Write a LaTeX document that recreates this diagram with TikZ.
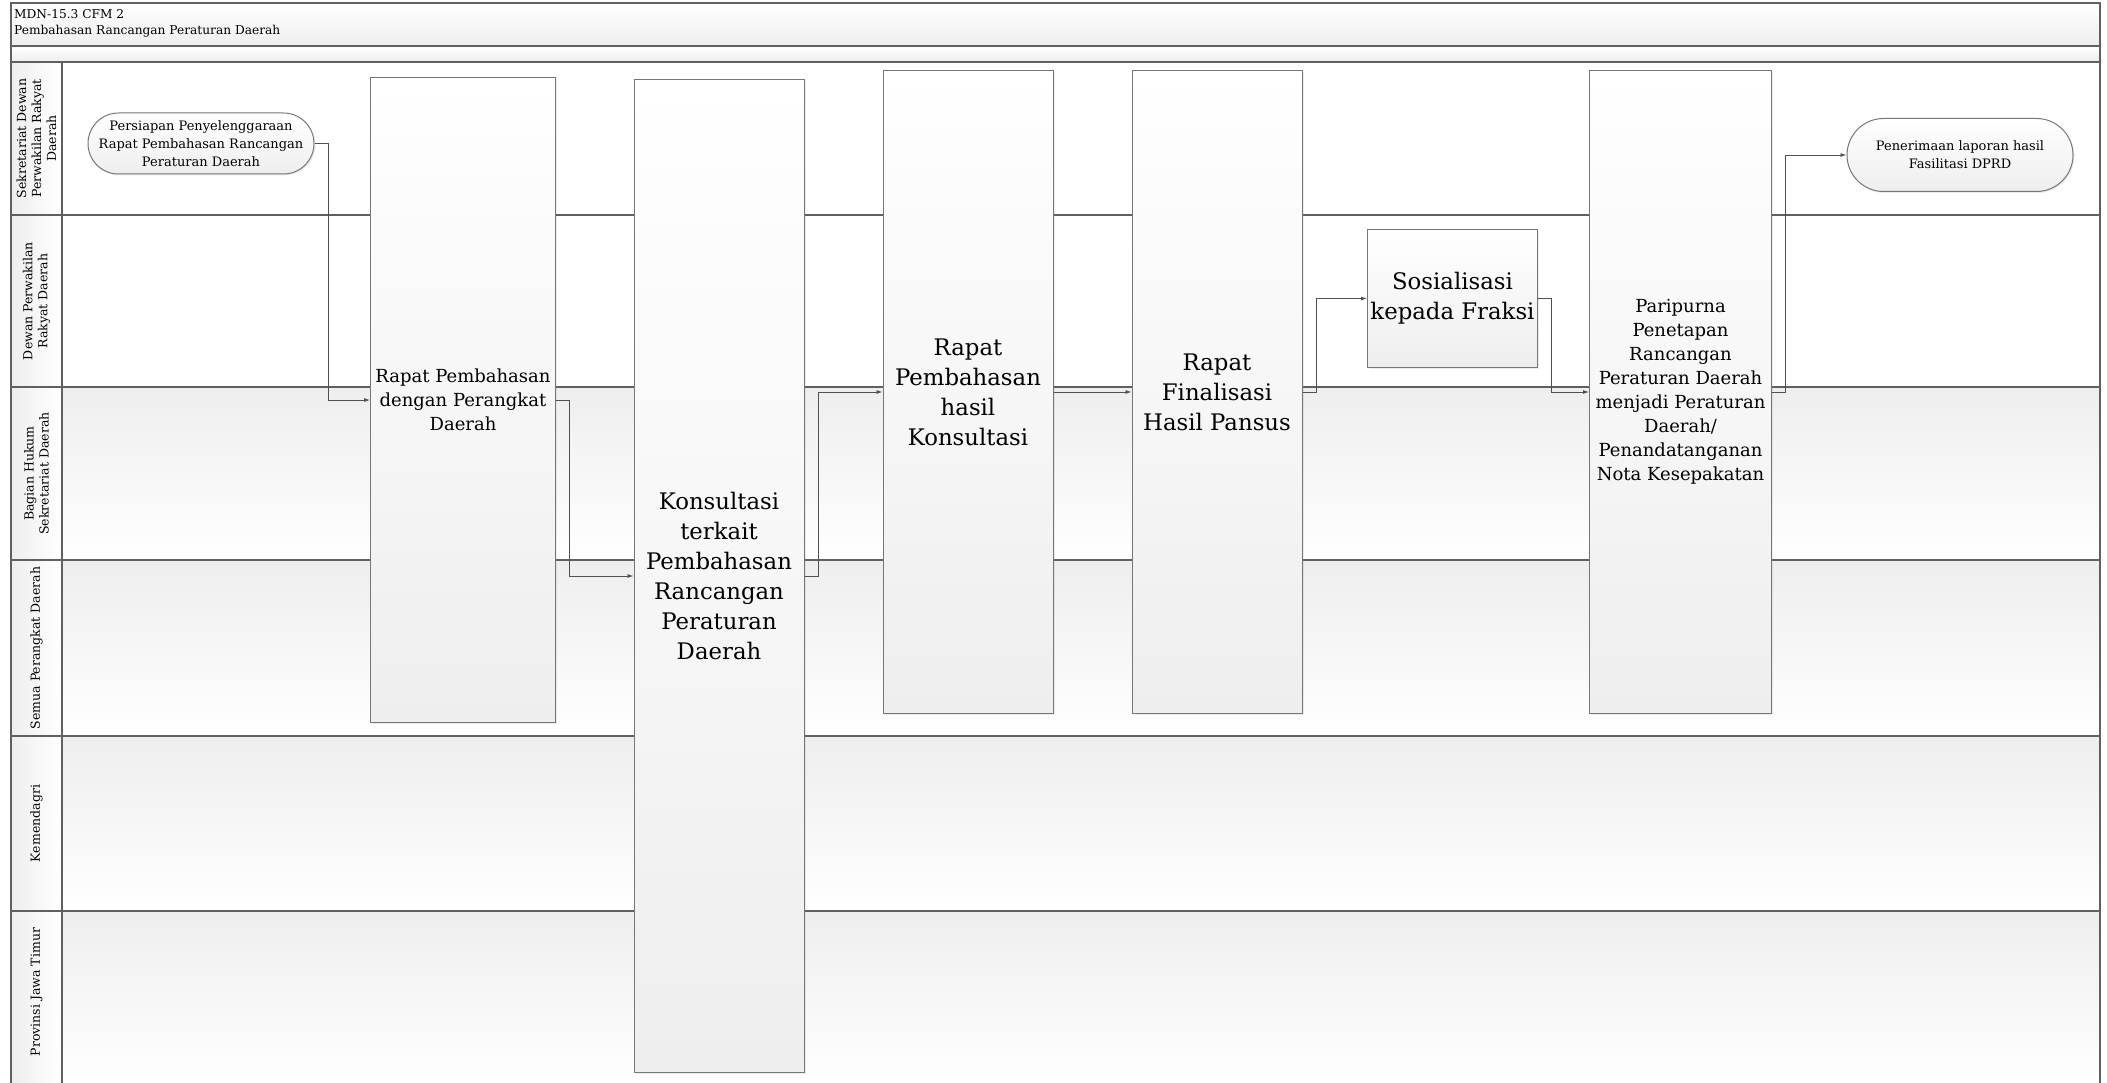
\documentclass[tikz,border=0pt]{standalone}
\usepackage{fontspec}
\setmainfont{DejaVu Serif}
\usetikzlibrary{positioning, arrows.meta, shapes.misc, shadows}
\definecolor{edgegray}{RGB}{118,118,118}
\definecolor{lanegray}{RGB}{96,96,96}
\definecolor{shadegray}{RGB}{238,238,238}
\definecolor{flowgray}{RGB}{80,80,80}
\newcommand{\titletxt}{\fontsize{12.2}{16}\selectfont}
\newcommand{\lanetxt}{\fontsize{12.5}{15}\selectfont}
\newcommand{\termtxt}{\fontsize{13}{18}\selectfont}
\newcommand{\midtxt}{\fontsize{18}{24}\selectfont}
\newcommand{\bigtxt}{\fontsize{22.8}{30}\selectfont}

\begin{document}
\begin{tikzpicture}[
  x=1pt, y=-1pt,
  task/.style={draw=edgegray, line width=1pt, top color=white,
               bottom color=shadegray, align=center, inner sep=2pt,
               drop shadow={shadow xshift=1.5pt, shadow yshift=-1.5pt,
                            opacity=0.15}},
  term/.style={task, rounded rectangle, font=\termtxt},
  lanelab/.style={rotate=90, align=center, font=\lanetxt, inner sep=1pt},
  lane/.style={draw=lanegray, line width=1.4pt},
  flow/.style={-{Latex[length=6pt, width=4pt]}, draw=flowgray,
               line width=0.9pt}]

  \useasboundingbox (0,0) rectangle (2107,1083);

  % header and lanes
  \shade[top color=white, bottom color=shadegray] (11,3) rectangle (2100,46);
  \shade[top color=white, bottom color=shadegray] (11,46) rectangle (2100,62);
  \fill[white] (62,62) rectangle (2100,387);
  \shade[top color=shadegray, bottom color=white] (62,387) rectangle (2100,560);
  \shade[top color=shadegray, bottom color=white] (62,560) rectangle (2100,736);
  \shade[top color=shadegray, bottom color=white] (62,736) rectangle (2100,911);
  \shade[top color=shadegray, bottom color=white] (62,911) rectangle (2100,1083);
  \shade[left color=shadegray, right color=white] (11,62) rectangle (62,1083);

  \draw[lane] (11,46) -- (2100,46);
  \draw[lane] (11,62) -- (2100,62);
  \draw[lane] (11,215) -- (2100,215);
  \draw[lane] (11,387) -- (2100,387);
  \draw[lane] (11,560) -- (2100,560);
  \draw[lane] (11,736) -- (2100,736);
  \draw[lane] (11,911) -- (2100,911);
  \draw[lane] (62,62) -- (62,1083);
  \draw[lane] (11,1083) -- (11,3) -- (2100,3) -- (2100,1083);

  \node[anchor=north west, align=left, font=\titletxt, inner sep=0pt] (title)
    at (14,9) {MDN-15.3 CFM 2\\Pembahasan Rancangan Peraturan Daerah};

  \node[lanelab] (sekwan) at (36.5,138.5) {Sekretariat Dewan\\Perwakilan Rakyat\\Daerah};
  \node[lanelab] (dprd)   at (36.5,301)   {Dewan Perwakilan\\Rakyat Daerah};
  \node[lanelab] (hukum)  at (36.5,473.5) {Bagian Hukum\\Sekretariat Daerah};
  \node[lanelab] (opd)    at (36.5,648)   {Semua Perangkat Daerah};
  \node[lanelab] (kemen)  at (36.5,823.5) {Kemendagri};
  \node[lanelab] (prov)   at (36.5,992)   {Provinsi Jawa Timur};

  % process
  \node[term, minimum width=230pt, minimum height=61pt] (start) at (201,143.5)
    {Persiapan Penyelenggaraan\\Rapat Pembahasan Rancangan\\Peraturan Daerah};
  \node[task, minimum width=185pt, minimum height=645pt, font=\midtxt] (rapat)
    at (463,400) {Rapat Pembahasan\\dengan Perangkat\\Daerah};
  \node[task, minimum width=170pt, minimum height=992pt, font=\bigtxt] (konsul)
    at (719,576) {Konsultasi\\terkait\\Pembahasan\\Rancangan\\Peraturan\\Daerah};
  \node[task, minimum width=170pt, minimum height=642pt, font=\bigtxt] (hasil)
    at (968,392) {Rapat\\Pembahasan\\hasil\\Konsultasi};
  \node[task, minimum width=170pt, minimum height=642pt, font=\bigtxt] (pansus)
    at (1217,392) {Rapat\\Finalisasi\\Hasil Pansus};
  \node[task, minimum width=170pt, minimum height=137pt, font=\bigtxt] (fraksi)
    at (1452.5,298.5) {Sosialisasi\\kepada Fraksi};
  \node[task, minimum width=182pt, minimum height=642pt, font=\midtxt] (paripurna)
    at (1680.5,392) {Paripurna\\Penetapan\\Rancangan\\Peraturan Daerah\\menjadi Peraturan\\Daerah/\\Penandatanganan\\Nota Kesepakatan};
  \node[term, minimum width=230pt, minimum height=73pt] (laporan) at (1960,155)
    {Penerimaan laporan hasil\\Fasilitasi DPRD};

  \draw[flow] (start.east) -- ++(13.5,0) |- (rapat.west);
  \draw[flow] (rapat.east) -- ++(13.5,0) |- (konsul.west);
  \draw[flow] (konsul.east) -- ++(13.5,0) |- (hasil.west);
  \draw[flow] (hasil.east) -- (pansus.west);
  \draw[flow] (pansus.east) -- ++(13.5,0) |- (fraksi.west);
  \draw[flow] (fraksi.east) -- ++(13.5,0) |- (paripurna.west);
  \draw[flow] (paripurna.east) -- ++(13.5,0) |- (laporan.west);
\end{tikzpicture}
\end{document}
